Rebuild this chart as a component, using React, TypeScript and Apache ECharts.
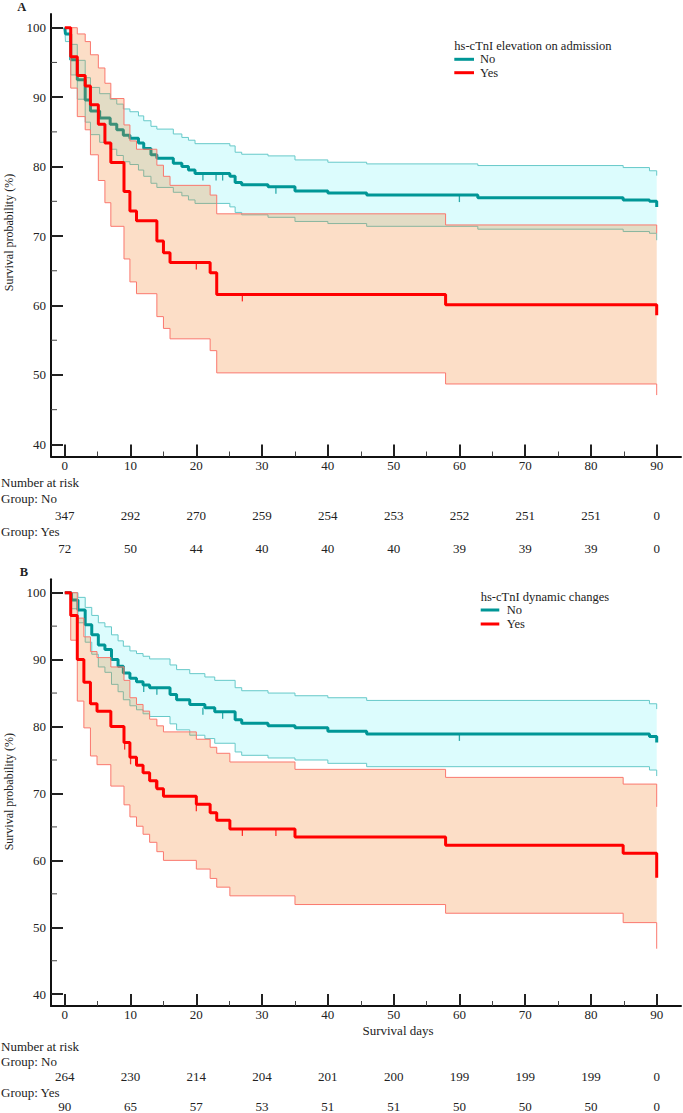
import React, { useEffect, useRef } from "react";
import * as echarts from "echarts";

// ---------------- data ----------------
const xTicks = [0, 10, 20, 30, 40, 50, 60, 70, 80, 90];
const xMinorTicks = [5, 15, 25, 35, 45, 55, 65, 75, 85];
const yTicks = [40, 50, 60, 70, 80, 90, 100];
const yMinorTicks = [45, 55, 65, 75, 85, 95];

const riskANo = [347, 292, 270, 259, 254, 253, 252, 251, 251, 0];
const riskAYes = [72, 50, 44, 40, 40, 40, 39, 39, 39, 0];
const riskBNo = [264, 230, 214, 204, 201, 200, 199, 199, 199, 0];
const riskBYes = [90, 65, 57, 53, 51, 51, 50, 50, 50, 0];

// Panel A, group No
const aNoDays = [0, 0.1, 0.9, 1.9, 3.1, 3.9, 5.3, 6.9, 7.9, 8.9, 9.9, 11.2, 12.0, 13.1, 14.0, 16.5, 17.8, 18.8, 19.8, 25.1, 25.9, 26.9, 30.9, 35.0, 40.0, 45.9, 62.8, 84.9, 88.9, 90];
const aNoSurv = [100, 99.1, 95.4, 92.5, 89.6, 88.0, 87.0, 86.1, 85.3, 84.5, 84.1, 83.4, 82.6, 81.7, 81.2, 80.5, 80.0, 79.5, 79.0, 78.6, 77.7, 77.4, 77.1, 76.5, 76.2, 75.9, 75.5, 75.2, 75.0, 74.2];
const aNoUpper = [100, 100, 97.6, 95.3, 92.8, 91.4, 90.5, 89.7, 89.0, 88.3, 87.9, 87.3, 86.6, 85.8, 85.4, 84.7, 84.2, 83.8, 83.3, 82.98, 82.07, 81.78, 81.54, 80.96, 80.63, 80.39, 80.15, 79.86, 79.4, 78.7];
const aNoLower = [100, 98.0, 93.2, 89.7, 86.4, 84.6, 83.5, 82.5, 81.6, 80.7, 80.3, 79.5, 78.6, 77.6, 77.0, 76.3, 75.8, 75.2, 74.7, 74.2, 73.4, 73.05, 72.7, 72.1, 71.8, 71.4, 70.99, 70.65, 70.4, 69.4];
const aNoCensor = [[21.0, 79.0], [23.0, 79.0], [24.0, 79.0], [32.1, 77.1], [60.0, 75.9]];

// Panel A, group Yes
const aYesDays = [0, 0.9, 1.9, 3.1, 3.9, 5.1, 6.1, 7.0, 9.0, 9.9, 10.9, 14.0, 15.0, 16.0, 22.1, 23.1, 57.9, 90];
const aYesSurv = [100, 95.8, 93.1, 91.6, 88.9, 86.1, 83.4, 80.6, 76.4, 73.6, 72.2, 69.3, 67.6, 66.2, 64.7, 61.6, 60.1, 58.6];
const aYesUpper = [100, 100, 99.1, 98.0, 96.1, 94.2, 92.0, 89.8, 86.0, 83.7, 82.5, 80.2, 78.6, 77.3, 75.9, 73.2, 71.6, 70.4];
const aYesLower = [100, 91.3, 87.2, 85.3, 81.7, 78.0, 74.8, 71.4, 66.7, 63.4, 61.7, 58.4, 56.7, 55.2, 53.5, 50.3, 48.7, 47.1];
const aYesCensor = [[20.0, 66.2], [27.0, 61.6]];

// Panel B, group No
const bNoDays = [0, 1.0, 2.0, 3.1, 4.1, 5.1, 6.1, 7.1, 8.1, 8.9, 9.9, 10.9, 11.9, 12.9, 16.0, 17.0, 19.0, 21.3, 22.8, 25.9, 26.9, 30.9, 35.0, 40.0, 45.9, 88.9, 90];
const bNoSurv = [100, 98.9, 97.4, 95.2, 93.7, 92.2, 91.5, 90.0, 89.0, 88.0, 87.2, 86.7, 86.2, 85.8, 84.8, 84.0, 83.3, 82.8, 82.2, 81.0, 80.5, 80.1, 79.8, 79.3, 78.9, 78.5, 77.6];
const bNoUpper = [100, 100, 99.3, 97.8, 96.6, 95.5, 94.9, 93.7, 92.8, 92.0, 91.3, 90.9, 90.5, 90.1, 89.2, 88.5, 87.9, 87.4, 86.9, 85.8, 85.35, 85.0, 84.6, 84.3, 83.9, 83.4, 82.6];
const bNoLower = [100, 97.6, 95.5, 92.6, 90.8, 88.9, 88.1, 86.3, 85.2, 84.0, 83.1, 82.5, 81.9, 81.5, 80.4, 79.5, 78.7, 78.2, 77.5, 76.2, 75.7, 75.3, 75.0, 74.5, 74.0, 73.5, 72.6];
const bNoCensor = [[12.0, 86.2], [14.0, 85.8], [21.0, 82.8], [24.0, 82.2], [60.0, 78.9]];

// Panel B, group Yes
const bYesDays = [0, 0.9, 1.9, 2.9, 3.9, 4.9, 7.0, 9.0, 9.9, 10.9, 11.9, 12.9, 14.0, 15.0, 20.0, 22.1, 23.1, 25.1, 35.0, 57.9, 84.9, 90];
const bYesSurv = [100, 96.6, 90.0, 86.6, 83.4, 82.3, 80.0, 77.6, 75.4, 74.2, 73.1, 71.9, 70.7, 69.6, 68.4, 67.1, 66.0, 64.7, 63.5, 62.25, 61.05, 57.4];
const bYesUpper = [100, 100, 96.2, 93.4, 91.2, 90.3, 88.9, 86.9, 84.3, 83.3, 82.3, 81.1, 80.1, 79.2, 78.1, 76.9, 76.0, 74.7, 73.6, 72.4, 71.4, 68.0];
const bYesLower = [100, 92.9, 83.8, 79.8, 75.6, 74.3, 71.1, 68.3, 66.5, 65.1, 63.9, 62.7, 61.3, 60.0, 58.7, 57.3, 56.0, 54.7, 53.4, 52.1, 50.7, 46.8];
const bYesCensor = [[9.1, 77.6], [10.0, 75.4], [13.8, 71.9], [20.0, 68.4], [27.0, 64.7], [32.1, 64.7]];

// ---------------- styles / layout ----------------
const SERIF = '"Liberation Serif", "Times New Roman", serif';
const TEAL = "#009696";
const TEAL_LIGHT = "#66c9c9";
const CYAN_FILL = "#dcfcfd";
const RED = "#ff0000";
const RED_LIGHT = "#fa786e";
const PEACH_FILL = "rgba(245,125,30,0.25)";
const TEXT = "#222";

const PLOT_LEFT = 51;
const PLOT_RIGHT = 681;
const X0_PX = 64.8;
const X90_PX = 656.7;

const PANELS = [
  { top: 14, bottom: 456.5, y100: 27.7, y40: 444.4 },
  { top: 579.3, bottom: 1006.8, y100: 592.7, y40: 995 },
];

function pairs(days: number[], vals: number[]) {
  return days.map((d, i) => [d, vals[i]]);
}

function stepPoints(api: any, pts: number[][]) {
  const out: number[][] = [];
  for (let i = 0; i < pts.length; i++) {
    if (i > 0) out.push(api.coord([pts[i][0], pts[i - 1][1]]));
    out.push(api.coord(pts[i]));
  }
  return out;
}

function band(upper: number[][], lower: number[][], fill: string, xi: number, yi: number, z: number) {
  return {
    type: "custom",
    xAxisIndex: xi,
    yAxisIndex: yi,
    z,
    silent: true,
    data: [[0, 100]],
    renderItem: (_p: any, api: any) => {
      const up = stepPoints(api, upper);
      const lo = stepPoints(api, lower).reverse();
      return { type: "polygon", shape: { points: up.concat(lo) }, style: { fill } };
    },
  };
}

// short minor tick marks on the y axis, positioned through the axis scale
function yMinorTickSeries(xi: number, yi: number) {
  return {
    type: "custom",
    xAxisIndex: xi,
    yAxisIndex: yi,
    z: 10,
    silent: true,
    clip: false,
    data: yMinorTicks.map((v) => [0, v]),
    renderItem: (params: any, api: any) => {
      const y = api.coord([0, api.value(1)])[1];
      const x = params.coordSys.x;
      return {
        type: "line",
        shape: { x1: x, y1: y, x2: x + 6, y2: y },
        style: { stroke: "#444", lineWidth: 1 },
      };
    },
  };
}

function line(data: number[][], color: string, width: number, xi: number, yi: number, z: number) {
  return {
    type: "line",
    xAxisIndex: xi,
    yAxisIndex: yi,
    data,
    step: "end",
    showSymbol: false,
    symbol: "none",
    silent: true,
    z,
    lineStyle: { color, width },
  };
}

function censor(data: number[][], color: string, xi: number, yi: number, z: number) {
  return {
    type: "scatter",
    xAxisIndex: xi,
    yAxisIndex: yi,
    data,
    symbol: "rect",
    symbolSize: [1.3, 7],
    symbolOffset: [0, 3.5],
    silent: true,
    z,
    itemStyle: { color },
  };
}

function buildOption() {
  const ppd = (X90_PX - X0_PX) / 90;
  const xMin = -(X0_PX - PLOT_LEFT) / ppd;
  const xMax = xMin + (PLOT_RIGHT - PLOT_LEFT) / ppd;

  const grids: any[] = [];
  const xAxes: any[] = [];
  const yAxes: any[] = [];
  const rows = [
    [riskANo, riskAYes],
    [riskBNo, riskBYes],
  ];
  const rowOffsets = [
    [52, 85],
    [64, 94],
  ];

  PANELS.forEach((p, gi) => {
    const ppu = (p.y40 - p.y100) / 60;
    const yMax = 100 + (p.y100 - p.top) / ppu;
    const yMin = yMax - (p.bottom - p.top) / ppu;
    grids.push({ left: PLOT_LEFT, top: p.top, width: PLOT_RIGHT - PLOT_LEFT, height: p.bottom - p.top });
    // main x axis
    xAxes.push({
      type: "value", gridIndex: gi, min: xMin, max: xMax, position: "bottom",
      axisLine: { show: true, onZero: false, lineStyle: { color: "#111", width: 2 } },
      axisTick: { show: true, inside: true, length: 12, customValues: xTicks, lineStyle: { color: "#222", width: 2 } },
      axisLabel: { show: true, customValues: xTicks, margin: 2, fontFamily: SERIF, fontSize: 13, color: TEXT },
      splitLine: { show: false },
    });
    // minor x ticks
    xAxes.push({
      type: "value", gridIndex: gi, min: xMin, max: xMax, position: "bottom",
      axisLine: { show: false, onZero: false },
      axisTick: { show: true, inside: true, length: 5, customValues: xMinorTicks, lineStyle: { color: "#444", width: 1 } },
      axisLabel: { show: false },
      splitLine: { show: false },
    });
    // risk rows
    rows[gi].forEach((vals, ri) => {
      xAxes.push({
        type: "value", gridIndex: gi, min: xMin, max: xMax, position: "bottom", offset: rowOffsets[gi][ri],
        axisLine: { show: false, onZero: false },
        axisTick: { show: false },
        axisLabel: {
          show: true, customValues: xTicks, margin: 0, fontFamily: SERIF, fontSize: 13, color: TEXT,
          formatter: (v: number) => String(vals[Math.round(v / 10)]),
        },
        splitLine: { show: false },
      });
    });
    yAxes.push({
      type: "value", gridIndex: gi, min: yMin, max: yMax, position: "left",
      axisLine: { show: true, onZero: false, lineStyle: { color: "#111", width: 2 } },
      axisTick: { show: true, inside: true, length: 12, customValues: yTicks, lineStyle: { color: "#222", width: 2 } },
      axisLabel: { show: true, customValues: yTicks, margin: 5, fontFamily: SERIF, fontSize: 13, color: TEXT },
      splitLine: { show: false },
    });
  });

  const groups = [
    { xi: 0, yi: 0, no: [aNoDays, aNoSurv, aNoUpper, aNoLower, aNoCensor], yes: [aYesDays, aYesSurv, aYesUpper, aYesLower, aYesCensor] },
    { xi: 4, yi: 1, no: [bNoDays, bNoSurv, bNoUpper, bNoLower, bNoCensor], yes: [bYesDays, bYesSurv, bYesUpper, bYesLower, bYesCensor] },
  ];
  const series: any[] = [];
  groups.forEach((g) => {
    const [nd, ns, nu, nl, nc] = g.no as any;
    const [yd, ys, yu, yl, yc] = g.yes as any;
    series.push(band(pairs(nd, nu), pairs(nd, nl), CYAN_FILL, g.xi, g.yi, 1));
    series.push(line(pairs(nd, nu), TEAL_LIGHT, 1, g.xi, g.yi, 2));
    series.push(line(pairs(nd, nl), TEAL_LIGHT, 1, g.xi, g.yi, 2));
    series.push(line(pairs(nd, ns), TEAL, 3, g.xi, g.yi, 3));
    series.push(censor(nc, TEAL, g.xi, g.yi, 3));
    series.push(band(pairs(yd, yu), pairs(yd, yl), PEACH_FILL, g.xi, g.yi, 4));
    series.push(line(pairs(yd, yu), RED_LIGHT, 1, g.xi, g.yi, 5));
    series.push(line(pairs(yd, yl), RED_LIGHT, 1, g.xi, g.yi, 5));
    series.push(line(pairs(yd, ys), RED, 3, g.xi, g.yi, 6));
    series.push(censor(yc, RED, g.xi, g.yi, 6));
    series.push(yMinorTickSeries(g.xi, g.yi));
  });

  const txt = (text: string, x: number, y: number, opts: any = {}) => ({
    type: "text",
    x,
    y,
    rotation: opts.rotation || 0,
    style: {
      text,
      fill: TEXT,
      font: `${opts.bold ? "bold " : ""}${opts.size || 12.5}px ${SERIF}`,
      textAlign: opts.align || "left",
      textVerticalAlign: "middle",
    },
  });
  const swatch = (x1: number, x2: number, y: number, color: string) => ({
    type: "line",
    shape: { x1, y1: y, x2, y2: y },
    style: { stroke: color, lineWidth: 3 },
  });

  const graphic = [
    txt("A", 21.7, 7, { bold: true, align: "center" }),
    txt("B", 24, 571.7, { bold: true, align: "center" }),
    txt("Survival probability (%)", 9.2, 232.5, { align: "center", rotation: Math.PI / 2, size: 12 }),
    txt("Survival probability (%)", 9.2, 791.7, { align: "center", rotation: Math.PI / 2, size: 12 }),
    // legend A
    txt("hs-cTnI elevation on admission", 454.3, 45.7),
    swatch(454.3, 474, 59.3, TEAL),
    txt("No", 480, 59.3),
    swatch(454.3, 474, 72.7, RED),
    txt("Yes", 480, 72.7),
    // legend B
    txt("hs-cTnI dynamic changes", 480.7, 596.7),
    swatch(480.7, 499.3, 610, TEAL),
    txt("No", 506.7, 610),
    swatch(480.7, 499.3, 624, RED),
    txt("Yes", 506.7, 624),
    // risk table A
    txt("Number at risk", 1, 482, { size: 13 }),
    txt("Group: No", 1, 498, { size: 13 }),
    txt("Group: Yes", 1, 531, { size: 13 }),
    // axis name B + risk table B
    txt("Survival days", 398, 1030, { align: "center", size: 13 }),
    txt("Number at risk", 1, 1046, { size: 13 }),
    txt("Group: No", 1, 1061, { size: 13 }),
    txt("Group: Yes", 1, 1092, { size: 13 }),
  ];

  return {
    animation: false,
    backgroundColor: "#ffffff",
    grid: grids,
    xAxis: xAxes,
    yAxis: yAxes,
    series,
    graphic,
  };
}

export default function App() {
  const ref = useRef<HTMLDivElement>(null);
  useEffect(() => {
    if (!ref.current) return;
    const chart = echarts.init(ref.current, null, { renderer: "svg" });
    chart.setOption(buildOption() as any);
    return () => chart.dispose();
  }, []);
  return (
    <div
      ref={ref}
      style={{ position: "absolute", left: 0, top: 0, width: 683, height: 1113, background: "#fff" }}
    />
  );
}
